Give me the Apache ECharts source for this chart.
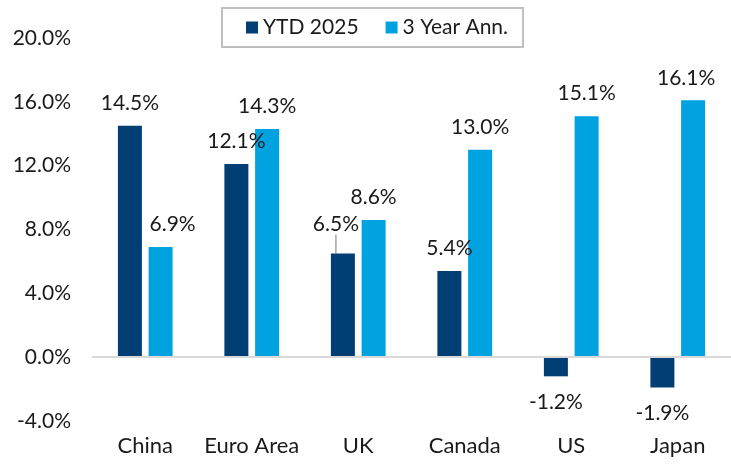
<!DOCTYPE html>
<html>
<head>
<meta charset="utf-8">
<script src="https://cdn.jsdelivr.net/npm/echarts@6/dist/echarts.min.js"></script>
<style>
  html,body{margin:0;padding:0;background:#fff;}
  #chart{width:731px;height:467px;}
</style>
</head>
<body>
<div id="chart"></div>
<script>
// values
var regions = ['China', 'Euro Area', 'UK', 'Canada', 'US', 'Japan'];
var ytd2025 = [14.5, 12.1, 6.5, 5.4, -1.2, -1.9];
var threeYearAnn = [6.9, 14.3, 8.6, 13.0, 15.1, 16.1];
var seriesNames = ['YTD 2025', '3 Year Ann.'];
var yTicks = [-4, 0, 4, 8, 12, 16, 20];

var FONT = 'Lato';
var TXT = '#1a1a1a';

// sideways nudges of the value labels, like the excel original
var ytdShift = [0, -12, 0, -8, 0, 0];
var annShift = [12, 0, 0, 0, 0, -7];

function makeItems(values, shift) {
  return values.map(function (v, i) {
    var item = {
      value: v,
      label: { offset: [shift[i], 0] },
      labelLine: { show: false }
    };
    if (v < 0) {
      item.label.position = 'bottom';
      item.label.distance = 15;
    }
    return item;
  });
}

function setOption(chart) {
  var ytdItems = makeItems(ytd2025, ytdShift);
  // UK label gets pushed up-left, with a leader line back to the bar
  ytdItems[2].labelLine = { show: true };

  var valueLabel = {
    show: true,
    position: 'top',
    distance: 12,
    fontFamily: FONT,
    fontSize: 21,
    color: TXT,
    formatter: function (p) { return p.value.toFixed(1) + '%'; }
  };

  var option = {
    animation: false,
    textStyle: { fontFamily: FONT },
    legend: {
      data: seriesNames,
      left: 222,
      top: 8,
      padding: [9, 15, 9, 24],
      itemGap: 27,
      itemWidth: 12,
      itemHeight: 12,
      icon: 'rect',
      borderColor: '#bfbfbf',
      borderWidth: 2,
      textStyle: { fontFamily: FONT, fontSize: 21, color: TXT }
    },
    grid: {
      left: 92,
      top: 38,
      width: 644,
      height: 383,
      containLabel: false
    },
    xAxis: {
      type: 'category',
      data: regions,
      axisLine: { show: false, onZero: false },
      axisTick: { show: false },
      axisLabel: { fontFamily: FONT, fontSize: 22, color: TXT, margin: 14, interval: 0 }
    },
    yAxis: {
      type: 'value',
      min: yTicks[0],
      max: yTicks[yTicks.length - 1],
      interval: 4,
      splitLine: { show: false },
      axisLine: { show: false },
      axisTick: { show: false },
      axisLabel: {
        fontFamily: FONT,
        fontSize: 21,
        color: TXT,
        margin: 21,
        formatter: function (v) { return v.toFixed(1) + '%'; }
      }
    },
    series: [{
      name: seriesNames[0],
      type: 'bar',
      barWidth: 24,
      barGap: '28%',
      data: ytdItems,
      itemStyle: { color: '#003e74' },
      label: valueLabel,
      labelLayout: function (params) {
        if (params.dataIndex === 2) {
          return { dx: -7, dy: -7 };
        }
      },
      labelLine: {
        show: false,
        lineStyle: { color: '#a6a6a6', width: 1.5 }
      },
      markLine: {
        silent: true,
        symbol: 'none',
        label: { show: false },
        lineStyle: { color: '#d9d9d9', width: 2, type: 'solid' },
        data: [{ yAxis: 0 }]
      },
      z: 3
    }, {
      name: seriesNames[1],
      type: 'bar',
      barWidth: 24,
      data: makeItems(threeYearAnn, annShift),
      itemStyle: { color: '#00a3e0' },
      label: valueLabel,
      z: 3
    }]
  };
  chart.setOption(option);
}

var chart = echarts.init(document.getElementById('chart'), null, { renderer: 'canvas' });
setOption(chart);
</script>
</body>
</html>
